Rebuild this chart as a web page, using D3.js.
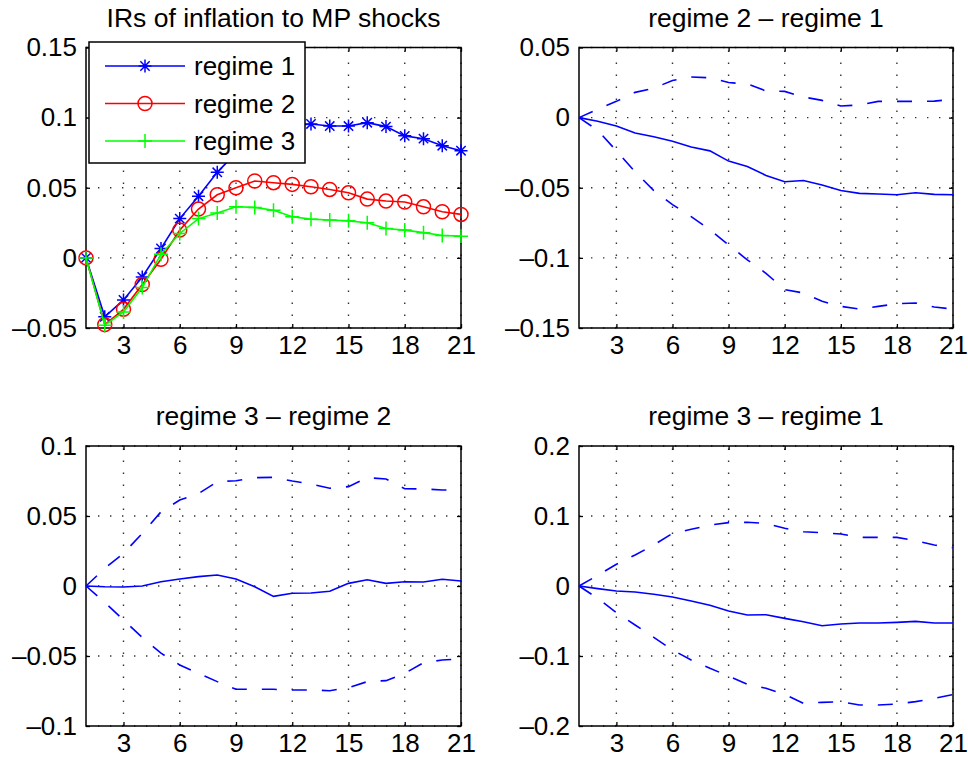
<html>
<head>
<meta charset="utf-8">
<script src="https://cdnjs.cloudflare.com/ajax/libs/d3/7.8.5/d3.min.js"></script>
<style>
  body { margin: 0; background: #fff; }
  svg { font-family: "Liberation Sans", Arial, sans-serif; }
</style>
</head>
<body>
<svg width="968" height="763"></svg>
<script>
// horizons and tick labels
var horizon = [1,2,3,4,5,6,7,8,9,10,11,12,13,14,15,16,17,18,19,20,21];
var xTicks = [3,6,9,12,15,18,21];

// panel 1: impulse responses per regime
var regime1 = [0,-0.042,-0.030,-0.0136,0.0067,0.028,0.044,0.061,0.075,0.085,0.091,0.094,0.0955,0.094,0.094,0.0964,0.0936,0.087,0.085,0.080,0.0764];
var regime2 = [0,-0.0476,-0.0367,-0.019,-0.001,0.0198,0.0348,0.045,0.050,0.0548,0.0536,0.0524,0.0507,0.0488,0.0464,0.0419,0.0405,0.0398,0.0364,0.0329,0.031];
var regime3 = [0,-0.048,-0.0386,-0.0212,0.0026,0.0174,0.028,0.032,0.0364,0.036,0.034,0.0293,0.0276,0.027,0.0264,0.025,0.021,0.0198,0.018,0.016,0.0155];

// panel 2: regime 2 - regime 1
var d21 = [0,-0.0026,-0.006,-0.011,-0.0137,-0.0168,-0.0209,-0.0237,-0.031,-0.0348,-0.0412,-0.0457,-0.0448,-0.048,-0.052,-0.054,-0.0545,-0.055,-0.0536,-0.0547,-0.055];
var d21Up = [0,0.006,0.0116,0.018,0.021,0.0265,0.029,0.0284,0.025,0.024,0.019,0.0187,0.0147,0.0123,0.0083,0.009,0.0116,0.0116,0.0116,0.0118,0.013];
var d21Lo = [0,-0.009,-0.0237,-0.0386,-0.052,-0.062,-0.0706,-0.080,-0.0908,-0.1014,-0.111,-0.1227,-0.125,-0.131,-0.1346,-0.1365,-0.1346,-0.1327,-0.1322,-0.135,-0.1365];

// panel 3: regime 3 - regime 2
var d32 = [0,-0.0005,-0.0007,0,0.003,0.005,0.0067,0.0079,0.005,-0.0005,-0.0074,-0.0052,-0.005,-0.0038,0.0019,0.0045,0.0019,0.003,0.0029,0.0048,0.0036];
var d32Up = [0,0.0126,0.0233,0.0376,0.053,0.0614,0.066,0.0745,0.0752,0.0774,0.0776,0.075,0.0729,0.0698,0.071,0.0774,0.0764,0.0695,0.0693,0.0686,0.0686];
var d32Lo = [0,-0.0117,-0.0243,-0.0367,-0.048,-0.0564,-0.0624,-0.0683,-0.0738,-0.0738,-0.0738,-0.0743,-0.0743,-0.0748,-0.0726,-0.0683,-0.0676,-0.0624,-0.0548,-0.0529,-0.052];

// panel 4: regime 3 - regime 1
var d31 = [0,-0.0038,-0.0071,-0.0086,-0.0119,-0.0157,-0.0214,-0.0276,-0.0357,-0.0414,-0.041,-0.0462,-0.051,-0.0567,-0.0543,-0.0529,-0.0529,-0.0519,-0.0505,-0.0529,-0.0529];
var d31Up = [0,0.0152,0.031,0.0443,0.0586,0.0752,0.081,0.0871,0.0905,0.091,0.0895,0.0824,0.0776,0.0762,0.0743,0.0695,0.0695,0.0695,0.0648,0.0586,0.0548];
var d31Lo = [0,-0.0176,-0.038,-0.0557,-0.0733,-0.0914,-0.1057,-0.1176,-0.1286,-0.1405,-0.1462,-0.1548,-0.1676,-0.1662,-0.1652,-0.17,-0.17,-0.1686,-0.1652,-0.1605,-0.155];

var yTicks1 = [-0.05,0,0.05,0.1,0.15];
var yTicks2 = [-0.15,-0.1,-0.05,0,0.05];
var yTicks3 = [-0.1,-0.05,0,0.05,0.1];
var yTicks4 = [-0.2,-0.1,0,0.1,0.2];

var legendNames = ["regime 1","regime 2","regime 3"];
var titles = ["IRs of inflation to MP shocks","regime 2 \u2013 regime 1","regime 3 \u2013 regime 2","regime 3 \u2013 regime 1"];

var svg = d3.select("svg");
var FONT = 26;

function fmt(d) {
    if (Math.abs(d) < 1e-9) return "0";
    var s = String(+Math.abs(d).toFixed(3));
    return (d < 0 ? "\u2013" : "") + s;
}

function panel(box, yTicks, title) {
    var x = d3.scaleLinear().domain([1,21]).range([box.l, box.r]);
    var y = d3.scaleLinear().domain([yTicks[0], yTicks[yTicks.length-1]]).range([box.b, box.t]);
    var g = svg.append("g");

    g.append("rect").attr("x", box.l).attr("y", box.t)
        .attr("width", box.r - box.l).attr("height", box.b - box.t).attr("fill", "#fff");

    // dotted grid
    var grid = g.append("g").attr("stroke", "#333").attr("stroke-width", 1.4)
        .attr("stroke-dasharray", "1.4,10.6");
    xTicks.forEach(function(t) {
        grid.append("line").attr("x1", x(t)).attr("x2", x(t)).attr("y1", box.b).attr("y2", box.t);
    });
    yTicks.forEach(function(t) {
        grid.append("line").attr("x1", box.l).attr("x2", box.r).attr("y1", y(t)).attr("y2", y(t));
    });

    // axes, inward ticks on all sides
    var tl = 4;
    g.append("g").attr("transform", "translate(0," + box.b + ")")
        .call(d3.axisBottom(x).tickValues(xTicks).tickSize(-tl).tickPadding(8).tickFormat(d3.format("d")));
    g.append("g").attr("transform", "translate(0," + box.t + ")")
        .call(d3.axisTop(x).tickValues(xTicks).tickSize(-tl).tickFormat(""));
    g.append("g").attr("transform", "translate(" + box.l + ",0)")
        .call(d3.axisLeft(y).tickValues(yTicks).tickSize(-tl).tickPadding(9).tickFormat(fmt));
    g.append("g").attr("transform", "translate(" + box.r + ",0)")
        .call(d3.axisRight(y).tickValues(yTicks).tickSize(-tl).tickFormat(""));
    g.selectAll(".domain").remove();
    g.selectAll(".tick line").attr("stroke", "#000").attr("stroke-width", 1.3);
    g.selectAll(".tick text").attr("fill", "#000").style("font-size", FONT + "px")
        .style("font-family", "'Liberation Sans', Arial, sans-serif");

    g.append("rect").attr("x", box.l).attr("y", box.t)
        .attr("width", box.r - box.l).attr("height", box.b - box.t)
        .attr("fill", "none").attr("stroke", "#000").attr("stroke-width", 1.5);

    g.append("text").attr("x", (box.l + box.r) / 2).attr("y", box.t - 21)
        .attr("text-anchor", "middle").style("font-size", "26.5px").text(title);

    return {x: x, y: y, g: g};
}

function drawLine(p, vals, color, dash) {
    var line = d3.line().x(function(d, i) { return p.x(horizon[i]); }).y(function(d) { return p.y(d); });
    p.g.append("path").datum(vals).attr("d", line).attr("fill", "none")
        .attr("stroke", color).attr("stroke-width", 1.6)
        .attr("stroke-dasharray", dash || null);
}

function marker(g, kind, cx, cy, color) {
    var s = 6.5;
    if (kind === "star") {
        var d = s * 0.72;
        g.append("path").attr("d",
            "M" + (cx - s) + "," + cy + "H" + (cx + s) +
            "M" + cx + "," + (cy - s) + "V" + (cy + s) +
            "M" + (cx - d) + "," + (cy - d) + "L" + (cx + d) + "," + (cy + d) +
            "M" + (cx - d) + "," + (cy + d) + "L" + (cx + d) + "," + (cy - d))
            .attr("stroke", color).attr("stroke-width", 1.5).attr("fill", "none");
    } else if (kind === "circle") {
        g.append("circle").attr("cx", cx).attr("cy", cy).attr("r", 7)
            .attr("stroke", color).attr("stroke-width", 1.5).attr("fill", "none");
    } else {
        g.append("path").attr("d",
            "M" + (cx - 7) + "," + cy + "H" + (cx + 7) + "M" + cx + "," + (cy - 7) + "V" + (cy + 7))
            .attr("stroke", color).attr("stroke-width", 1.5).attr("fill", "none");
    }
}

function drawSeries(p, vals, color, kind) {
    drawLine(p, vals, color);
    vals.forEach(function(v, i) { marker(p.g, kind, p.x(horizon[i]), p.y(v), color); });
}

var DASH = "15,15";

// panel 1
var p1 = panel({l: 86, r: 461, t: 47.5, b: 328}, yTicks1, titles[0]);
var series1 = [
    {vals: regime1, color: "#0000ff", kind: "star"},
    {vals: regime2, color: "#ff0000", kind: "circle"},
    {vals: regime3, color: "#00ff00", kind: "plus"}
];
series1.forEach(function(s) { drawSeries(p1, s.vals, s.color, s.kind); });

// legend
var lg = svg.append("g");
lg.append("rect").attr("x", 89).attr("y", 42).attr("width", 216).attr("height", 121)
    .attr("fill", "#fff").attr("stroke", "#000").attr("stroke-width", 1.5);
series1.forEach(function(s, i) {
    var yy = 66 + i * 37.5;
    lg.append("line").attr("x1", 105).attr("x2", 185).attr("y1", yy).attr("y2", yy)
        .attr("stroke", s.color).attr("stroke-width", 1.6);
    marker(lg, s.kind, 145, yy, s.color);
    lg.append("text").attr("x", 194).attr("y", yy + 9).style("font-size", FONT + "px").text(legendNames[i]);
});

// difference panels
var diffs = [
    {box: {l: 579, r: 953, t: 47.5, b: 328}, ticks: yTicks2, title: titles[1], mid: d21, up: d21Up, lo: d21Lo},
    {box: {l: 86, r: 461, t: 446, b: 726}, ticks: yTicks3, title: titles[2], mid: d32, up: d32Up, lo: d32Lo},
    {box: {l: 579, r: 953, t: 446, b: 726}, ticks: yTicks4, title: titles[3], mid: d31, up: d31Up, lo: d31Lo}
];
diffs.forEach(function(c) {
    var p = panel(c.box, c.ticks, c.title);
    drawLine(p, c.up, "#0000ff", DASH);
    drawLine(p, c.lo, "#0000ff", DASH);
    drawLine(p, c.mid, "#0000ff");
});
</script>
</body>
</html>
